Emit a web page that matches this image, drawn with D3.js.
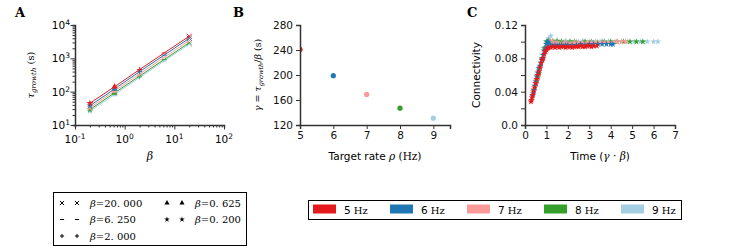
<!DOCTYPE html>
<html><head><meta charset="utf-8">
<script src="https://cdn.jsdelivr.net/npm/d3@7"></script>
<style>
body{margin:0;background:#fff;}
text{font-family:"DejaVu Sans",sans-serif;}
.serif{font-family:"DejaVu Serif","Liberation Serif",serif;}
</style></head><body>
<svg id="c" width="750" height="250"></svg>
<script>
// ---------- DATA ----------
const freqs = ["5 Hz","6 Hz","7 Hz","8 Hz","9 Hz"];
const rates = [5,6,7,8,9];
const colors = ["#e41a1c","#1f78b4","#fb9a99","#33a02c","#a6cee3"];
const betas = [0.2,0.625,2,6.25,20];
const betaLabels = ["0.200","0.625","2.000","6.250","20.000"];
// tau_growth (s) per frequency, per beta
const tau5 = [45,140,460,1450,4600];
const tau6 = [38,120,400,1250,4000];
const tau7 = [33,105,340,1080,3400];
const tau8 = [29,92,295,920,2950];
const tau9 = [26,82,265,830,2650];
const taus = [tau5,tau6,tau7,tau8,tau9];
// gamma per frequency
const gammaVals = [241,199,169,147,131];
// Panel C: connectivity vs time
const t5 = [0.28,0.3,0.33,0.36,0.4,0.45,0.5,0.55,0.6,0.65,0.7,0.75,0.8,0.85,0.9,0.95,1.0,1.05,1.1,1.2,1.3,1.4,1.5,1.6,1.7,1.8,1.9,2.0,2.1,2.2,2.3,2.4,2.5,2.6,2.7,2.8,2.9,3.0,3.1,3.2,3.35];
const c5 = [0.028,0.030,0.033,0.036,0.040,0.045,0.050,0.055,0.060,0.064,0.069,0.074,0.078,0.080,0.085,0.088,0.090,0.092,0.093,0.093,0.094,0.093,0.094,0.093,0.094,0.094,0.093,0.094,0.094,0.093,0.094,0.094,0.094,0.095,0.094,0.094,0.095,0.095,0.094,0.095,0.095];
const t6 = [0.35,0.38,0.42,0.46,0.5,0.55,0.6,0.65,0.7,0.75,0.8,0.85,0.9,0.95,1.0,1.05,1.1,1.2,1.3,1.4,1.5,1.6,1.7,1.8,1.9,2.0,2.2,2.4,2.6,2.8,3.0,3.2,3.4,3.6,3.8,4.0,4.1];
const c6 = [0.035,0.038,0.042,0.047,0.052,0.058,0.063,0.068,0.071,0.075,0.079,0.084,0.089,0.093,0.097,0.100,0.099,0.096,0.095,0.096,0.095,0.096,0.096,0.095,0.096,0.096,0.096,0.096,0.097,0.096,0.097,0.097,0.097,0.097,0.097,0.097,0.097];
const t7 = [0.4,0.45,0.5,0.55,0.6,0.7,0.8,0.9,1.0,1.1,1.2,1.3,1.4,1.5,1.7,1.9,2.1,2.3,2.5,2.7,2.9,3.1,3.3,3.5,3.7,3.9,4.1,4.3,4.5,4.7];
const c7 = [0.043,0.047,0.050,0.054,0.060,0.068,0.078,0.088,0.094,0.098,0.101,0.099,0.098,0.099,0.098,0.099,0.098,0.099,0.099,0.098,0.099,0.099,0.099,0.099,0.099,0.099,0.099,0.100,0.100,0.100];
const t8 = [0.5,0.55,0.6,0.65,0.7,0.8,0.9,1.0,1.1,1.2,1.3,1.5,1.7,1.9,2.1,2.3,2.5,2.8,3.1,3.4,3.7,4.0,4.3,4.6,4.9,5.2,5.5];
const c8 = [0.050,0.053,0.057,0.062,0.068,0.080,0.092,0.100,0.101,0.099,0.100,0.101,0.100,0.099,0.100,0.100,0.099,0.100,0.100,0.099,0.100,0.100,0.100,0.100,0.100,0.100,0.100];
const t9 = [0.55,0.6,0.65,0.7,0.8,0.9,1.0,1.1,1.2,1.3,1.5,1.7,1.9,2.1,2.4,2.7,3.0,3.3,3.6,3.9,4.2,4.5,4.8,5.1,5.4,5.7,6.0,6.2];
const c9 = [0.060,0.062,0.066,0.070,0.080,0.090,0.098,0.104,0.107,0.101,0.100,0.100,0.101,0.100,0.100,0.101,0.100,0.100,0.101,0.100,0.100,0.100,0.100,0.100,0.100,0.100,0.100,0.100];
const ts = [t5,t6,t7,t8,t9];
const cs = [c5,c6,c7,c8,c9];
const yTicksB = [120,160,200,240,280];
const yTicksC = [0.0,0.04,0.08,0.12];
const xTicksC = [0,1,2,3,4,5,6,7];

// ---------- DRAW ----------
const svg = d3.select("#c");
const axCol = "#333";
const FS = "10.5px";
function styleAxis(g){
  g.selectAll(".domain").attr("stroke",axCol).attr("stroke-width",1.5);
  g.selectAll(".tick line").attr("stroke",axCol).attr("stroke-width",1);
  g.selectAll(".tick text").attr("fill","#111").style("font-size",FS).style("font-family","DejaVu Sans");
}

function drawMarker(g, beta, x, y, col, scale){
  scale = scale||1;
  const h = 2.3*scale;
  if (beta===6.25){
    g.append("line").attr("x1",x-h).attr("x2",x+h).attr("y1",y).attr("y2",y)
      .attr("stroke",col).attr("stroke-width",1);
  } else if (beta===20){
    g.append("path").attr("d",`M${x-h},${y-h}L${x+h},${y+h}M${x-h},${y+h}L${x+h},${y-h}`)
      .attr("stroke",col).attr("stroke-width",1).attr("fill","none");
  } else if (beta===2){
    g.append("path").attr("d",`M${x-h},${y}L${x+h},${y}M${x},${y-h}L${x},${y+h}`)
      .attr("stroke",col).attr("stroke-width",1).attr("fill","none");
  } else {
    const t = beta===0.625 ? d3.symbolTriangle : d3.symbolStar;
    const size = (beta===0.625?14:12)*scale*scale;
    g.append("path").attr("d", d3.symbol().type(t).size(size)()).attr("transform",`translate(${x},${y})`).attr("fill",col);
  }
}

// Panel A
{
  const x = d3.scaleLog().domain([0.1,100]).range([75,224]);
  const y = d3.scaleLog().domain([10,10000]).range([125,25]);
  const pow = v => Math.round(Math.log10(v));
  const gx = svg.append("g").attr("transform","translate(0,125)")
    .call(d3.axisBottom(x).ticks(10).tickSize(2.5).tickFormat(""));
  gx.selectAll(".tick").filter(d=>Math.abs(Math.log10(d)-Math.round(Math.log10(d)))<1e-6)
    .select("line").attr("y2",4.5);
  styleAxis(gx);
  const gy = svg.append("g").attr("transform","translate(75,0)")
    .call(d3.axisLeft(y).ticks(10).tickSize(2.5).tickFormat(""));
  gy.selectAll(".tick").filter(d=>Math.abs(Math.log10(d)-Math.round(Math.log10(d)))<1e-6)
    .select("line").attr("x2",-4.5);
  styleAxis(gy);
  [0.1,1,10,100].forEach(v=>{
    const t = svg.append("text").attr("x",x(v)).attr("y",143).attr("text-anchor","middle").style("font-size",FS);
    t.append("tspan").text("10");
    t.append("tspan").attr("dy",-4).style("font-size","7.5px").text(pow(v));
  });
  [10,100,1000,10000].forEach(v=>{
    const t = svg.append("text").attr("x",70).attr("y",y(v)+4).attr("text-anchor","end").style("font-size",FS);
    t.append("tspan").text("10");
    t.append("tspan").attr("dy",-4).style("font-size","7.5px").text(pow(v));
  });
  const line = d3.line().x((d,i)=>x(betas[i])).y(d=>y(d));
  for (let k=taus.length-1;k>=0;k--){
    svg.append("path").datum(taus[k]).attr("d",line).attr("fill","none").attr("stroke",colors[k]).attr("stroke-width",1);
    taus[k].forEach((v,i)=>drawMarker(svg,betas[i],x(betas[i]),y(v),colors[k],1.1));
  }
  svg.append("text").attr("x",150).attr("y",160).attr("text-anchor","middle").attr("class","serif")
    .style("font-size","11px").style("font-style","italic").text("β");
  const yl = svg.append("text").attr("transform","translate(34,75) rotate(-90)").attr("text-anchor","middle")
    .attr("class","serif").style("font-size","10px");
  yl.append("tspan").style("font-style","italic").text("τ");
  yl.append("tspan").style("font-style","italic").style("font-size","7px").attr("dy",2).text("growth");
  yl.append("tspan").attr("dy",-2).text(" (s)");
  svg.append("text").attr("x",15).attr("y",17).attr("class","serif").style("font-weight","bold").style("font-size","13px").text("A");
}

// Panel B
{
  const x = d3.scaleLinear().domain([5,9.5]).range([300,450]);
  const y = d3.scaleLinear().domain([120,280]).range([125,25]);
  svg.append("clipPath").attr("id","clipB").append("rect").attr("x",300).attr("y",25).attr("width",150).attr("height",100);
  svg.append("g").attr("clip-path","url(#clipB)").selectAll("circle").data(gammaVals).join("circle")
    .attr("cx",(d,i)=>x(rates[i])).attr("cy",d=>y(d)).attr("r",2.6).attr("fill",(d,i)=>colors[i]);
  const gx = svg.append("g").attr("transform","translate(0,125)")
    .call(d3.axisBottom(x).tickValues([5,6,7,8,9]).tickSize(4).tickFormat(d3.format("d")));
  styleAxis(gx);
  const gy = svg.append("g").attr("transform","translate(300,0)")
    .call(d3.axisLeft(y).tickValues(yTicksB).tickSize(4));
  styleAxis(gy);
  const xl = svg.append("text").attr("x",375).attr("y",160).attr("text-anchor","middle").style("font-size","10.5px");
  xl.append("tspan").text("Target rate ");
  xl.append("tspan").attr("class","serif").style("font-style","italic").text("ρ");
  xl.append("tspan").attr("class","serif").text(" (Hz)");
  const yl = svg.append("text").attr("transform","translate(261,75) rotate(-90)").attr("text-anchor","middle")
    .attr("class","serif").style("font-size","9.5px");
  yl.append("tspan").style("font-style","italic").text("γ");
  yl.append("tspan").text(" = ");
  yl.append("tspan").style("font-style","italic").text("τ");
  yl.append("tspan").style("font-style","italic").style("font-size","6.5px").attr("dy",2).text("growth");
  yl.append("tspan").attr("dy",-2).text("/");
  yl.append("tspan").style("font-style","italic").text("β");
  yl.append("tspan").text(" (s)");
  svg.append("text").attr("x",233).attr("y",17).attr("class","serif").style("font-weight","bold").style("font-size","13px").text("B");
}

// Panel C
{
  const x = d3.scaleLinear().domain([0,7]).range([525,675]);
  const y = d3.scaleLinear().domain([0,0.12]).range([125,25]);
  const star = d3.symbol().type(d3.symbolStar).size(14)();
  for (let k=ts.length-1;k>=0;k--){
    svg.append("g").selectAll("path").data(ts[k]).join("path")
      .attr("d",star).attr("transform",(d,i)=>`translate(${x(d)},${y(cs[k][i])})`).attr("fill",colors[k]);
  }
  const gx = svg.append("g").attr("transform","translate(0,125)")
    .call(d3.axisBottom(x).tickValues(xTicksC).tickSize(4).tickFormat(d3.format("d")));
  styleAxis(gx);
  const gy = svg.append("g").attr("transform","translate(525,0)")
    .call(d3.axisLeft(y).tickValues([0,0.02,0.04,0.06,0.08,0.10,0.12]).tickSize(4)
      .tickFormat(d=> yTicksC.some(v=>Math.abs(v-d)<1e-9) ? (d===0?"0.0":d3.format(".2f")(d)) : ""));
  styleAxis(gy);
  const xl = svg.append("text").attr("x",600).attr("y",160).attr("text-anchor","middle").style("font-size","10.5px");
  xl.append("tspan").text("Time (");
  xl.append("tspan").attr("class","serif").style("font-style","italic").text("γ");
  xl.append("tspan").attr("class","serif").text(" · ");
  xl.append("tspan").attr("class","serif").style("font-style","italic").text("β");
  xl.append("tspan").text(")");
  svg.append("text").attr("transform","translate(480,75) rotate(-90)").attr("text-anchor","middle")
    .style("font-size","10.5px").text("Connectivity");
  svg.append("text").attr("x",467).attr("y",17).attr("class","serif").style("font-weight","bold").style("font-size","13px").text("C");
}

// Legend left (beta markers)
{
  svg.append("rect").attr("x",53.5).attr("y",192.5).attr("width",193).attr("height",53)
    .attr("fill","#fff").attr("stroke","#000").attr("stroke-width",1);
  const order = [[20,"20.000",0,0],[6.25,"6.250",0,1],[2,"2.000",0,2],[0.625,"0.625",1,0],[0.2,"0.200",1,1]];
  order.forEach(([b,lab,col,row])=>{
    const yy = 203+row*16.5;
    const x0 = col===0?62:167;
    drawMarker(svg,b,x0,yy,"#000",0.9);
    drawMarker(svg,b,x0+15,yy,"#000",0.9);
    const t = svg.append("text").attr("x",x0+28).attr("y",yy+3.5).attr("class","serif").style("font-size","10px");
    t.append("tspan").style("font-style","italic").text("β");
    t.append("tspan").text("=" + lab.replace(".",". "));
  });
}

// Legend right (frequencies)
{
  svg.append("rect").attr("x",308.5).attr("y",200.5).attr("width",373).attr("height",19)
    .attr("fill","#fff").attr("stroke","#000").attr("stroke-width",1);
  freqs.forEach((f,i)=>{
    const x0 = 313 + i*77;
    svg.append("rect").attr("x",x0).attr("y",204.5).attr("width",23).attr("height",9).attr("fill",colors[i]);
    const t = svg.append("text").attr("x",x0+31).attr("y",213.5).style("font-size","10.5px");
    t.append("tspan").text(String(rates[i]));
    t.append("tspan").attr("class","serif").style("font-size","10px").text(" Hz");
  });
}
</script>
</body></html>
